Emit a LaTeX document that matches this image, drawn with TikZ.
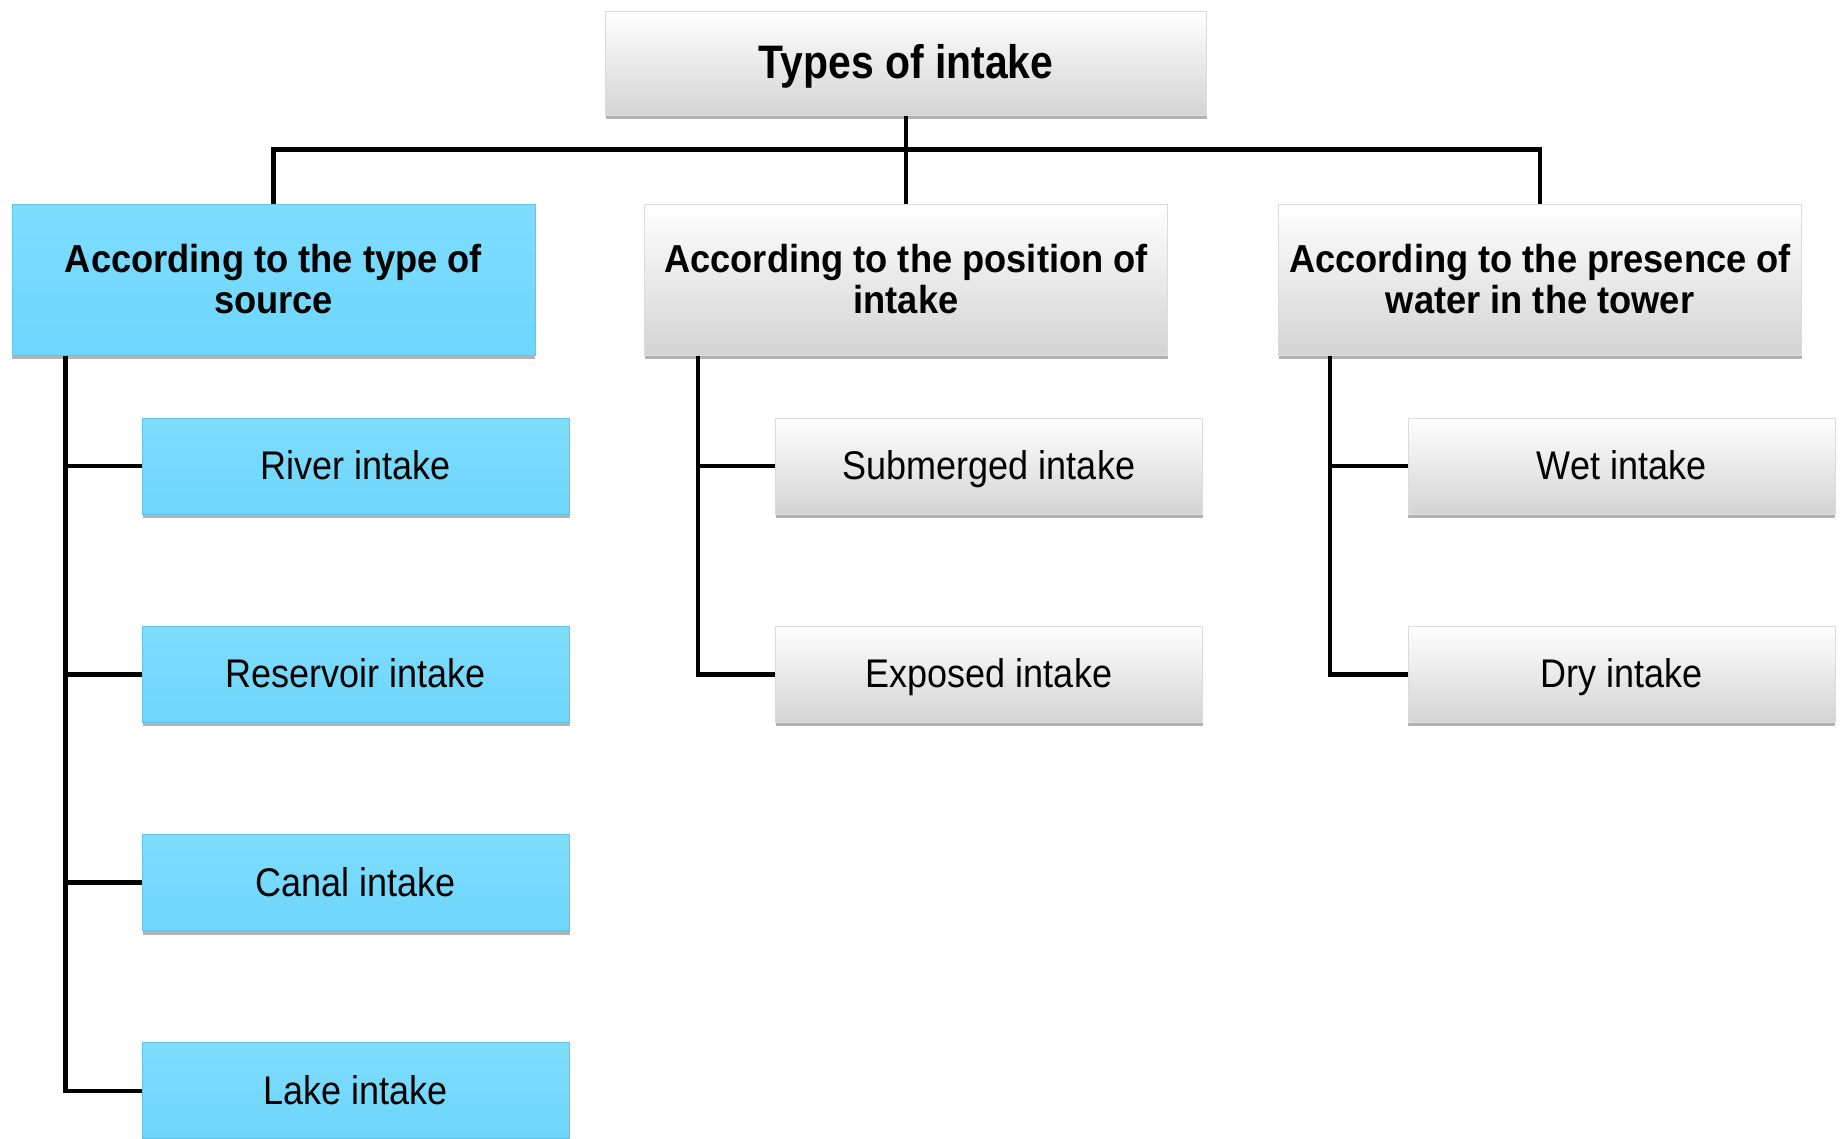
\documentclass[tikz,border=0pt]{standalone}
\usepackage{fontspec}
\setmainfont{Liberation Sans}[FakeStretch=0.9]
\newfontfamily\headfont{Liberation Sans}[FakeStretch=0.93]
\newfontfamily\titlefont{Liberation Sans}[FakeStretch=0.87]
\usepackage{tikz}
\usetikzlibrary{positioning,shadows}
\definecolor{skyfill}{RGB}{108,214,252}
\definecolor{skytop}{RGB}{126,221,253}

\begin{document}
\begin{tikzpicture}[x=1pt,y=-1pt,node distance=111.3pt,
  base/.style={inner sep=0pt,align=center,line width=1pt,
    drop shadow={shadow xshift=0pt,shadow yshift=-4pt,opacity=0.3,fill=black}},
  silver/.style={draw=black!14,top color=white,bottom color=black!17},
  sky/.style={draw=skyfill!92!black,top color=skytop,bottom color=skyfill},
  headbox/.style={base,minimum width=523pt,minimum height=151pt,
    font=\headfont\bfseries\fontsize{39}{41}\selectfont},
  itembox/.style={base,minimum width=427pt,minimum height=96pt,
    text height=31pt,text depth=4pt,font=\fontsize{40}{46}\selectfont},
  conn/.style={line width=4.5pt}]
\path[use as bounding box,fill=white] (0,0) rectangle (1841,1138);

% root and the three groups
\node[base,silver,minimum width=601pt,minimum height=104pt,text height=36pt,text depth=6pt,
  font=\titlefont\bfseries\fontsize{47}{52}\selectfont] (types) at (906,63) {Types of intake};
\node[headbox,sky] (source) at (273.5,279.5) {According to the type of\\source};
\node[headbox,silver] (position) at (906,279.5) {According to the position of\\intake};
\node[headbox,silver] (presence) at (1540,279.5) {According to the presence of\\water in the tower};

% by source
\node[itembox,sky] (river) at (356,466) {River intake};
\node[itembox,sky,below=of river] (reservoir) {Reservoir intake};
\node[itembox,sky,below=of reservoir] (canal) {Canal intake};
\node[itembox,sky,below=of canal] (lake) {Lake intake};

% by position
\node[itembox,silver] (submerged) at (989,466) {Submerged intake};
\node[itembox,silver,below=of submerged] (exposed) {Exposed intake};

% by water in tower
\node[itembox,silver] (wet) at (1621.5,466) {Wet intake};
\node[itembox,silver,below=of wet] (dry) {Dry intake};

\draw[conn] (types.south) -- ++(0,34) coordinate (bar) -| (source.north);
\draw[conn] (bar) -| (presence.north);
\draw[conn] (bar) -- (position.north);
\foreach \kid in {river,reservoir,canal,lake}
  \draw[conn] ([xshift=54pt]source.south west) |- (\kid.west);
\foreach \kid in {submerged,exposed}
  \draw[conn] ([xshift=54pt]position.south west) |- (\kid.west);
\foreach \kid in {wet,dry}
  \draw[conn] ([xshift=52pt]presence.south west) |- (\kid.west);
\end{tikzpicture}
\end{document}
